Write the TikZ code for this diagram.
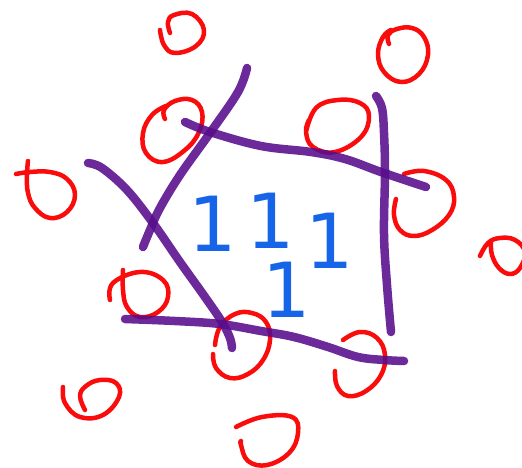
\documentclass[tikz,border=0pt]{standalone}
\usepackage{fontspec}
\newfontfamily\digitfont{DejaVu Sans}
\definecolor{zerocolor}{RGB}{250,12,12}
\definecolor{cutcolor}{RGB}{88,12,140}
\definecolor{onecolor}{RGB}{22,100,232}

\begin{document}
\begin{tikzpicture}[
    x=1pt, y=-1pt,
    zeroloop/.style={draw=zerocolor, line width=4.5pt, line cap=round, line join=round},
    cutline/.style={draw=cutcolor, line width=8.5pt, line cap=round, opacity=0.88},
    onedigit/.style={text=onecolor, font=\digitfont\fontsize{76}{76}\selectfont, anchor=base, inner sep=0pt}
]

% canvas: 522 x 468, y grows downward
\clip (0,0) rectangle (522,468);
\fill[white] (0,0) rectangle (522,468);

% Zeros (outside points)
\draw[zeroloop] plot[smooth, tension=0.7] coordinates {(160,30) (164,45) (175,53) (196,46) (204,30) (192,14) (174,15) (168,22) (170,33)};
\draw[zeroloop] plot[smooth, tension=0.7] coordinates {(165,119) (164,110) (175,101) (192,100) (202,112) (199,132) (185,150) (163,162) (146,153) (143,133) (152,115) (166,106)};
\draw[zeroloop] plot[smooth, tension=0.7] coordinates {(28,161) (27,175) (28,193) (35,208) (50,218) (67,212) (75,195) (67,179) (50,172) (30,172) (16,174)};
\draw[zeroloop] plot[smooth, tension=0.7] coordinates {(389,44) (388,35) (397,29) (412,28) (424,37) (428,55) (419,74) (401,82) (384,72) (378,54) (383,37) (391,30)};
\draw[zeroloop] plot[smooth, tension=0.7] coordinates {(306,132) (316,108) (338,100) (360,103) (369,116) (361,137) (335,152) (313,147) (306,132) (309,120)};
\draw[zeroloop] plot[smooth, tension=0.7] coordinates {(404,174) (424,171) (446,180) (454,197) (449,215) (432,230) (414,236) (400,230) (394,215) (396,199)};
\draw[zeroloop] plot[smooth, tension=0.7] coordinates {(480,256) (488,243) (500,238) (515,240) (525,252) (520,268) (510,274) (499,268) (492,255) (491,243)};
\draw[zeroloop] plot[smooth, tension=0.7] coordinates {(110,300) (113,283) (140,272) (163,280) (168,297) (158,312) (140,317) (127,307) (123,290) (123,270)};
\draw[zeroloop] plot[smooth, tension=0.7] coordinates {(215,345) (220,327) (235,314) (252,313) (266,322) (270,340) (263,360) (248,374) (230,378) (216,368) (213,354)};
\draw[zeroloop] plot[smooth, tension=0.7] coordinates {(343,340) (360,332) (377,338) (385,355) (381,375) (366,391) (348,396) (337,386) (335,371)};
\draw[zeroloop] plot[smooth, tension=0.7] coordinates {(63,387) (65,403) (80,417) (103,415) (119,397) (116,383) (100,380) (86,386) (80,396) (85,410)};
\draw[zeroloop] plot[smooth, tension=0.7] coordinates {(236,427) (262,417) (292,417) (298,433) (289,453) (267,465) (248,461) (241,445) (241,441)};

% Ones (inside points)
\node[onedigit] (oneA) at (213,251) {1};
\node[onedigit] (oneB) at (271,248) {1};
\node[onedigit] (oneC) at (330,268) {1};
\node[onedigit] (oneD) at (287,317) {1};

% Cutting lines
\draw[cutline] plot[smooth, tension=0.6] coordinates {(247,68) (238,92) (210,133) (180,175) (160,208) (150,230) (143,247)};
\draw[cutline] plot[smooth, tension=0.6] coordinates {(88,163) (102,168) (127,190) (153,223) (180,262) (205,297) (222,322) (230,338) (232,348)};
\draw[cutline] plot[smooth, tension=0.6] coordinates {(185,122) (210,132) (261,146) (311,152) (345,159) (381,172) (426,187)};
\draw[cutline] plot[smooth, tension=0.6] coordinates {(376,96) (382,108) (384,133) (385,172) (384,234) (387,285) (391,332)};
\draw[cutline] plot[smooth, tension=0.6] coordinates {(125,319) (175,321) (220,324) (261,331) (294,337) (328,347) (358,357) (384,360) (404,361)};

\end{tikzpicture}
\end{document}
